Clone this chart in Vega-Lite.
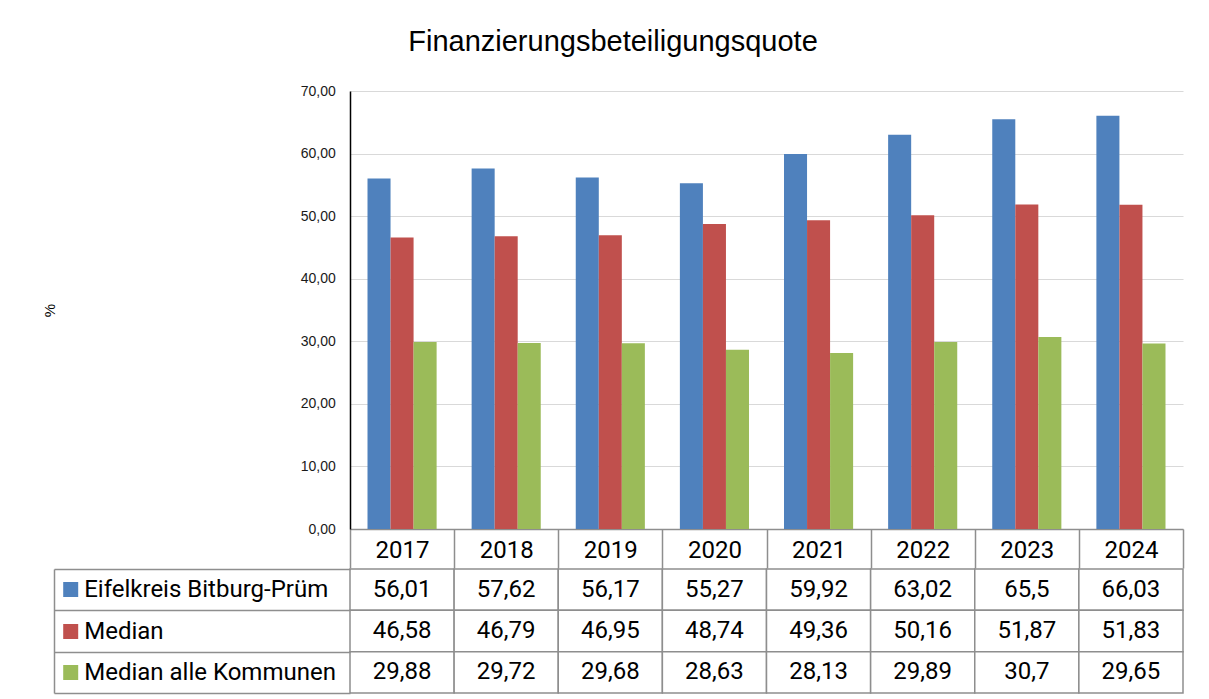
{
  "$schema": "https://vega.github.io/schema/vega-lite/v6.json",
  "background": "white",
  "padding": {"left": 42, "top": 28, "right": 26, "bottom": 6},
  "title": {
    "text": "Finanzierungsbeteiligungsquote",
    "font": "Liberation Sans",
    "fontSize": 29,
    "fontWeight": "normal",
    "color": "black",
    "anchor": "middle",
    "frame": "bounds",
    "offset": 27
  },
  "config": {
    "locale": {"number": {"decimal": ",", "thousands": ".", "grouping": [3], "currency": ["", " €"]}},
    "view": {"stroke": null}
  },
  "datasets": {
    "vals": [
      {"Jahr": "2017", "Reihe": "Eifelkreis Bitburg-Prüm", "Wert": 56.01},
      {"Jahr": "2017", "Reihe": "Median", "Wert": 46.58},
      {"Jahr": "2017", "Reihe": "Median alle Kommunen", "Wert": 29.88},
      {"Jahr": "2018", "Reihe": "Eifelkreis Bitburg-Prüm", "Wert": 57.62},
      {"Jahr": "2018", "Reihe": "Median", "Wert": 46.79},
      {"Jahr": "2018", "Reihe": "Median alle Kommunen", "Wert": 29.72},
      {"Jahr": "2019", "Reihe": "Eifelkreis Bitburg-Prüm", "Wert": 56.17},
      {"Jahr": "2019", "Reihe": "Median", "Wert": 46.95},
      {"Jahr": "2019", "Reihe": "Median alle Kommunen", "Wert": 29.68},
      {"Jahr": "2020", "Reihe": "Eifelkreis Bitburg-Prüm", "Wert": 55.27},
      {"Jahr": "2020", "Reihe": "Median", "Wert": 48.74},
      {"Jahr": "2020", "Reihe": "Median alle Kommunen", "Wert": 28.63},
      {"Jahr": "2021", "Reihe": "Eifelkreis Bitburg-Prüm", "Wert": 59.92},
      {"Jahr": "2021", "Reihe": "Median", "Wert": 49.36},
      {"Jahr": "2021", "Reihe": "Median alle Kommunen", "Wert": 28.13},
      {"Jahr": "2022", "Reihe": "Eifelkreis Bitburg-Prüm", "Wert": 63.02},
      {"Jahr": "2022", "Reihe": "Median", "Wert": 50.16},
      {"Jahr": "2022", "Reihe": "Median alle Kommunen", "Wert": 29.89},
      {"Jahr": "2023", "Reihe": "Eifelkreis Bitburg-Prüm", "Wert": 65.5},
      {"Jahr": "2023", "Reihe": "Median", "Wert": 51.87},
      {"Jahr": "2023", "Reihe": "Median alle Kommunen", "Wert": 30.7},
      {"Jahr": "2024", "Reihe": "Eifelkreis Bitburg-Prüm", "Wert": 66.03},
      {"Jahr": "2024", "Reihe": "Median", "Wert": 51.83},
      {"Jahr": "2024", "Reihe": "Median alle Kommunen", "Wert": 29.65}
    ]
  },
  "spacing": -13,
  "vconcat": [
    {
      "width": 833,
      "height": 438,
      "data": {"name": "vals"},
      "mark": {"type": "bar"},
      "encoding": {
        "x": {
          "field": "Jahr",
          "type": "nominal",
          "scale": {"paddingInner": 0, "paddingOuter": 0},
          "axis": {
            "title": null,
            "labelAngle": 0,
            "labelFont": "Roboto",
            "labelFontSize": 24,
            "labelColor": "black",
            "labelPadding": -30,
            "ticks": true,
            "tickBand": "extent",
            "tickSize": 39,
            "tickColor": "#8E8E8E",
            "tickWidth": 1.5,
            "domainColor": "#8E8E8E",
            "domainWidth": 1.5,
            "grid": false,
            "minExtent": 39,
            "maxExtent": 39
          }
        },
        "xOffset": {
          "field": "Reihe",
          "type": "nominal",
          "sort": ["Eifelkreis Bitburg-Prüm", "Median", "Median alle Kommunen"],
          "scale": {"paddingInner": 0, "paddingOuter": 0.76}
        },
        "y": {
          "field": "Wert",
          "type": "quantitative",
          "scale": {"domain": [0, 70], "nice": false},
          "axis": {
            "title": "%",
            "titleFont": "Liberation Sans",
            "titleFontSize": 15,
            "titleFontWeight": "normal",
            "titleColor": "black",
            "titlePadding": 243,
            "values": [0, 10, 20, 30, 40, 50, 60, 70],
            "format": ".2f",
            "labelFont": "Liberation Sans",
            "labelFontSize": 14,
            "labelColor": "#1a1a1a",
            "labelPadding": 14.7,
            "ticks": false,
            "domain": true,
            "domainColor": "black",
            "domainWidth": 1.5,
            "grid": true,
            "gridColor": "#D9D9D9",
            "gridWidth": 1
          }
        },
        "color": {
          "field": "Reihe",
          "type": "nominal",
          "scale": {
            "domain": ["Eifelkreis Bitburg-Prüm", "Median", "Median alle Kommunen"],
            "range": ["#4F81BD", "#C0504D", "#9BBB59"]
          },
          "legend": null
        }
      }
    },
    {
      "width": 833,
      "height": 124,
      "data": {"name": "vals"},
      "resolve": {"axis": {"y": "independent"}},
      "layer": [
        {
          "mark": {"type": "rect", "fill": "white", "stroke": "#8E8E8E", "strokeWidth": 1.5},
          "encoding": {
            "x": {"field": "Jahr", "type": "nominal", "scale": {"paddingInner": 0, "paddingOuter": 0}, "axis": null},
            "y": {
              "field": "Reihe",
              "type": "nominal",
              "sort": ["Eifelkreis Bitburg-Prüm", "Median", "Median alle Kommunen"],
              "scale": {"paddingInner": 0, "paddingOuter": 0},
              "axis": {
                "orient": "left",
                "title": null,
                "domain": false,
                "ticks": true,
                "tickBand": "extent",
                "tickSize": 296,
                "tickColor": "#8E8E8E",
                "tickWidth": 1.5,
                "labels": true,
                "labelAlign": "left",
                "labelBaseline": "middle",
                "labelFont": "Roboto",
                "labelFontSize": 24,
                "labelColor": "black",
                "labelPadding": -29.7,
                "labelLimit": 400,
                "grid": false
              }
            }
          }
        },
        {
          "mark": {"type": "text", "font": "Roboto", "fontSize": 24, "color": "black", "align": "center", "baseline": "middle"},
          "encoding": {
            "x": {"field": "Jahr", "type": "nominal", "axis": null},
            "y": {
              "field": "Reihe",
              "type": "nominal",
              "sort": ["Eifelkreis Bitburg-Prüm", "Median", "Median alle Kommunen"],
              "axis": {
                "orient": "left",
                "title": null,
                "offset": 296,
                "domain": true,
                "domainColor": "#8E8E8E",
                "domainWidth": 1.5,
                "ticks": false,
                "labels": false,
                "grid": false
              }
            },
            "text": {"field": "Wert", "type": "quantitative", "format": ".2~f"}
          }
        },
        {
          "mark": {"type": "rect", "opacity": 0},
          "encoding": {
            "x": {"field": "Jahr", "type": "nominal", "axis": null},
            "y": {
              "field": "Reihe",
              "type": "nominal",
              "sort": ["Eifelkreis Bitburg-Prüm", "Median", "Median alle Kommunen"],
              "axis": {
                "orient": "left",
                "title": null,
                "offset": 287.3,
                "domain": false,
                "labels": false,
                "grid": false,
                "ticks": true,
                "tickBand": "center",
                "tickSize": -15,
                "tickWidth": 15,
                "tickColor": {
                  "condition": [
                    {"test": "datum.value === 'Eifelkreis Bitburg-Prüm'", "value": "#4F81BD"},
                    {"test": "datum.value === 'Median'", "value": "#C0504D"}
                  ],
                  "value": "#9BBB59"
                }
              }
            }
          }
        }
      ]
    }
  ]
}
